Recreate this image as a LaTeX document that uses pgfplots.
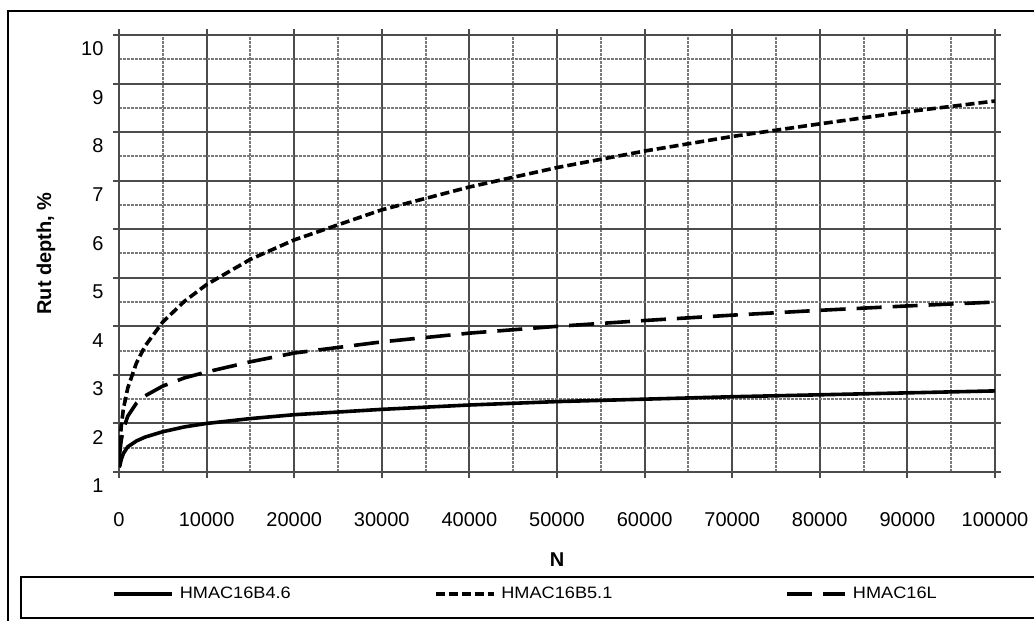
\documentclass[border=0pt]{standalone}
\usepackage{pgfplots}
\pgfplotsset{compat=1.18}
\usepackage{pgfplotstable}
\usepackage{fontspec}
\setmainfont{Liberation Sans}
\newfontfamily\legfont[FakeStretch=1.1]{Liberation Sans}
\newcommand\legtxt[1]{{\legfont\fontsize{16.5}{17}\selectfont #1}}

\pgfplotstableread{
N v
0 1.10
100 1.13
250 1.25
500 1.38
1000 1.52
2000 1.64
3000 1.72
5000 1.83
7500 1.93
10000 2.00
15000 2.10
20000 2.18
30000 2.29
40000 2.38
50000 2.45
60000 2.50
70000 2.55
80000 2.59
90000 2.63
100000 2.67
}\tabA

\pgfplotstableread{
N v
0 1.30
100 1.54
250 1.93
500 2.30
1000 2.73
2000 3.25
3000 3.60
5000 4.09
7500 4.52
10000 4.86
15000 5.38
20000 5.78
30000 6.40
40000 6.87
50000 7.27
60000 7.61
70000 7.91
80000 8.17
90000 8.42
100000 8.64
}\tabB

\pgfplotstableread{
N v
0 1.25
100 1.42
250 1.65
500 1.88
1000 2.15
2000 2.42
3000 2.57
5000 2.77
7500 2.94
10000 3.06
15000 3.27
20000 3.45
30000 3.68
40000 3.86
50000 4.00
60000 4.12
70000 4.23
80000 4.33
90000 4.42
100000 4.50
}\tabC

\begin{document}
\begin{tikzpicture}[x=1pt,y=1pt]
\useasboundingbox (0,0) rectangle (1034,621);
\fill[white] (0,0) rectangle (1034,621);
\begin{axis}[
  at={(119pt,149pt)}, anchor=south west,
  scale only axis, width=876pt, height=437pt,
  xmin=0, xmax=100000, ymin=1, ymax=10,
  xtick={0,10000,...,100000},
  ytick={1,2,...,10},
  minor xtick={5000,15000,...,95000},
  minor ytick={1.5,2.5,...,9.5},
  scaled x ticks=false,
  xticklabel={\pgfmathprintnumber[fixed,1000 sep={}]{\tick}},
  /pgf/number format/assume math mode=true,
  /pgf/number format/1000 sep={},
  grid=both,
  major grid style={black!70, line width=2pt},
  minor grid style={black!52, line width=2pt, dash pattern=on 3pt off 1pt},
  axis line style={black!70, line width=2pt},
  tick align=outside,
  major tick length=6pt,
  minor tick length=0pt,
  tick style={black!70, line width=2pt},
  ticklabel style={font=\fontsize{20}{21}\selectfont},
  xticklabel style={yshift=-31pt},
  yticklabel style={yshift=-14pt, xshift=-6pt},
  xlabel={\textbf{N}},
  ylabel={\textbf{Rut depth, \%}},
  label style={font=\fontsize{20}{21}\selectfont},
  xlabel style={at={(axis description cs:0.5,0)}, anchor=center, yshift=-88pt},
  ylabel style={at={(axis description cs:0,0.5)}, anchor=center, yshift=73pt},
  legend columns=3,
  legend image code/.code={\draw[#1] (0pt,0pt) -- (58pt,0pt);},
  legend style={draw=none, fill=none, at={(-0.008,-0.279)}, anchor=west,
    inner sep=0pt, nodes={inner sep=0pt, anchor=west},
    /tikz/every odd column/.append style={column sep=6pt}},
  every axis plot/.append style={black, line width=3.6pt},
]
\addplot[line cap=butt] table[x=N,y=v] {\tabA};
\addlegendentry{\makebox[254pt][l]{\legtxt{HMAC16B4.6}}}
\addplot[dash pattern=on 9pt off 4pt] table[x=N,y=v] {\tabB};
\addlegendentry{\makebox[284pt][l]{\legtxt{HMAC16B5.1}}}
\addplot[dash pattern=on 25pt off 11pt] table[x=N,y=v] {\tabC};
\addlegendentry{\legtxt{HMAC16L}}
\end{axis}
\draw[line width=2pt] (8,-5) -- (8,610) -- (1040,610);
\draw[line width=2pt] (1040,44) -- (21,44) -- (21,3) -- (1040,3);
\end{tikzpicture}
\end{document}
